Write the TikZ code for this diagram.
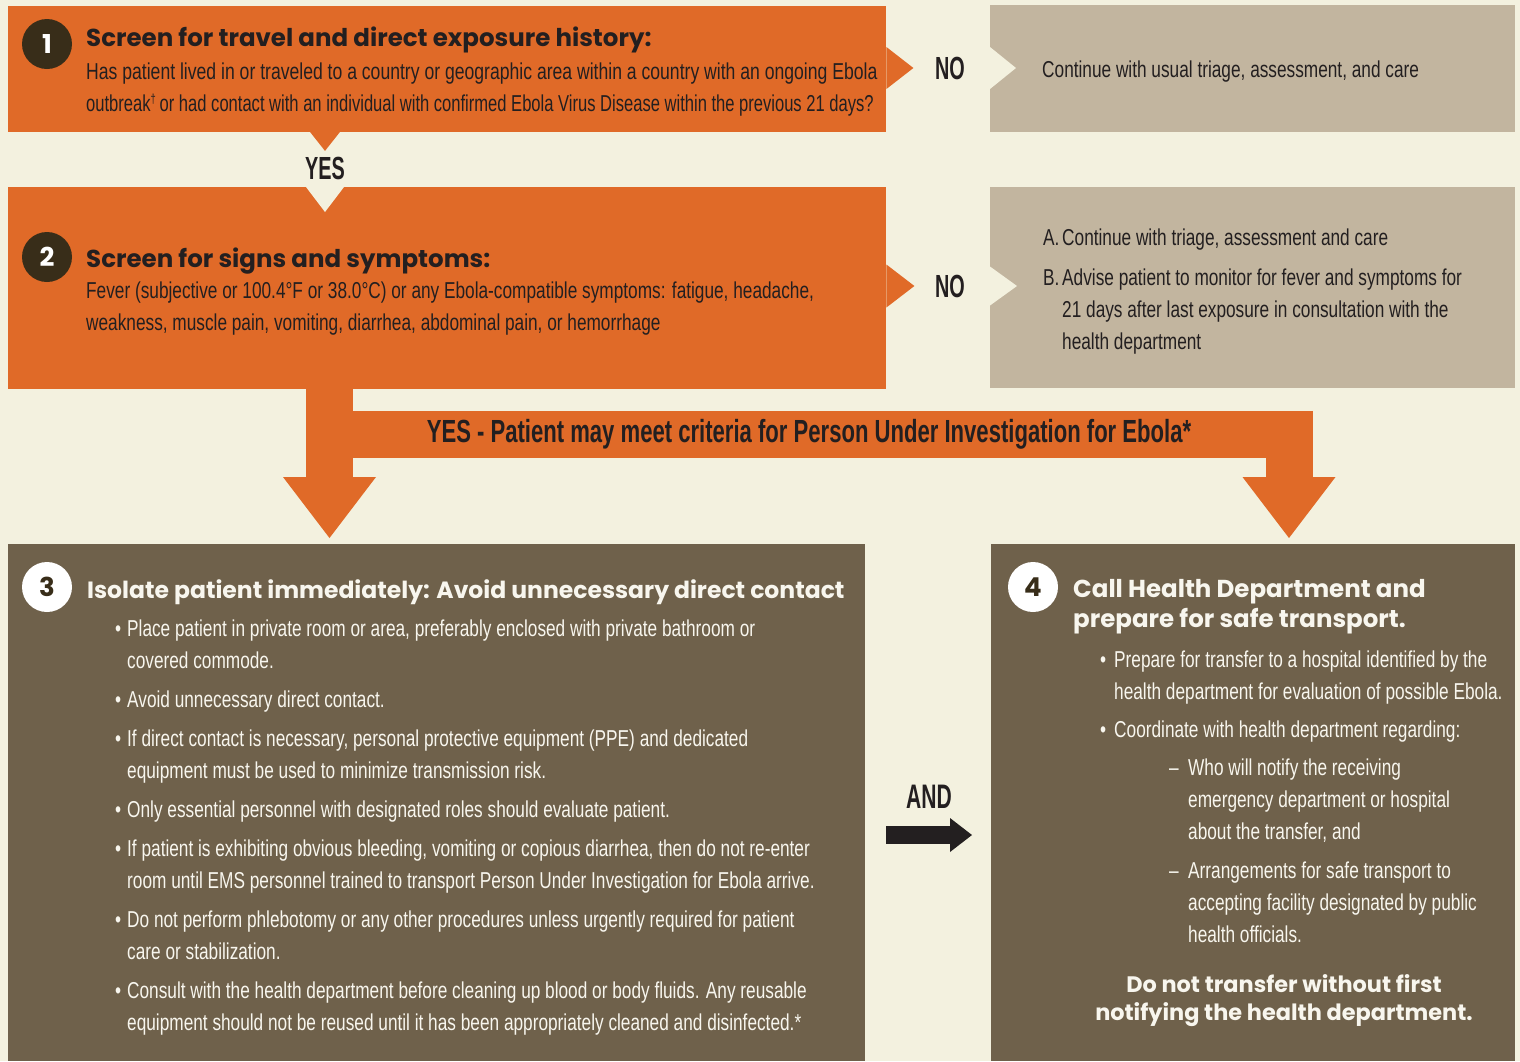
\documentclass[tikz,border=0pt]{standalone}
\usepackage{fontspec}
\setmainfont{Liberation Sans}
\newfontfamily\bodyfont[FakeStretch=0.75]{Liberation Sans}
\newfontfamily\widebody[FakeStretch=0.765]{Liberation Sans}
\newfontfamily\tightbody[FakeStretch=0.72]{Liberation Sans}
\newfontfamily\headfont{Poppins}
\newfontfamily\tagfont[FakeStretch=0.62]{Liberation Sans}
\newfontfamily\barfont[FakeStretch=0.69]{Liberation Sans}
\usetikzlibrary{arrows.meta, positioning}

\definecolor{cream}{RGB}{243,241,223}
\definecolor{ebolaorange}{RGB}{224,106,40}
\definecolor{altfill}{RGB}{194,181,159}
\definecolor{actfill}{RGB}{111,97,75}
\definecolor{circdark}{RGB}{56,45,25}
\definecolor{inkdark}{RGB}{35,31,32}
\definecolor{inklight}{RGB}{248,246,238}

\newcommand{\bitem}[1][12pt]{\makebox[#1][l]{•}}
\newcommand{\bcont}[1][12pt]{\hspace*{#1}}

\tikzstyle{qbox} = [rectangle, anchor=north west, inner sep=0pt, fill=ebolaorange]
\tikzstyle{altbox} = [rectangle, anchor=north west, inner sep=0pt, fill=altfill]
\tikzstyle{actbox} = [rectangle, anchor=north west, inner sep=0pt, fill=actfill]
\tikzstyle{numdark} = [circle, fill=circdark, text=white, minimum size=50pt, inner sep=0pt, font=\headfont\bfseries\fontsize{26pt}{26pt}\selectfont]
\tikzstyle{numlight} = [circle, fill=white, text=circdark, minimum size=50pt, inner sep=0pt, font=\headfont\bfseries\fontsize{26pt}{26pt}\selectfont]
\tikzstyle{tag} = [inner sep=0pt, text=inkdark, font=\tagfont\bfseries\fontsize{32pt}{32pt}\selectfont]
\tikzstyle{head} = [anchor=base west, inner sep=0pt, align=left, font=\headfont\bfseries\fontsize{24.5pt}{30pt}\selectfont]
\tikzstyle{body} = [anchor=base west, inner sep=0pt, align=left, font=\bodyfont\fontsize{23pt}{32pt}\selectfont]
\tikzstyle{bigarrow} = [line width=47pt, draw=ebolaorange, shorten >=6pt, -{Triangle[width=93pt, length=61pt, line width=0pt]}]
\tikzstyle{andarrow} = [line width=18pt, draw=inkdark, -{Triangle[width=34pt, length=22pt, line width=0pt]}]

\begin{document}
\begin{tikzpicture}[x=1pt, y=-1pt]
	\fill [cream] (0,0) rectangle (1520,1061);
	\useasboundingbox (0,0) rectangle (1520,1061);

	% boxes
	\node (screen1) [qbox, minimum width=878pt, minimum height=125.5pt] at (8,6) {};
	\node (alt1) [altbox, minimum width=525pt, minimum height=126.5pt] at (990,5) {};
	\node (screen2) [qbox, minimum width=878pt, minimum height=202pt] at (8,187) {};
	\node (alt2) [altbox, minimum width=525pt, minimum height=201pt] at (990,187) {};
	\node (isolate) [actbox, minimum width=857pt, minimum height=517pt] at (8,544) {};
	\node (callhd) [actbox, minimum width=524pt, minimum height=517pt] at (991,544) {};

	% labels between boxes
	\node (no1) [tag] at (950,68) {NO};
	\node (yes1) [tag] at (325,168) {YES};
	\node (no2) [tag] at (950,286) {NO};
	\node (andlbl) [tag, font=\tagfont\bfseries\fontsize{34pt}{34pt}\selectfont] at (929,797) {AND};

	% notches
	\fill [ebolaorange] (screen1.south -| yes1) ++(-15,0) -- ++(30,0) -- ++(-15,19) -- cycle;
	\fill [cream] (screen2.north -| yes1) ++(-19,0) -- ++(38,0) -- ++(-19,25) -- cycle;
	\fill [ebolaorange] (screen1.east |- no1) ++(0,-21) -- ++(27,21) -- ++(-27,21) -- cycle;
	\fill [cream] (alt1.west |- no1) ++(0,-21) -- ++(26,21) -- ++(-26,21) -- cycle;
	\fill [ebolaorange] (screen2.east |- no2) ++(0,-21.5) -- ++(28,21.5) -- ++(-28,21.5) -- cycle;
	\fill [cream] (alt2.west |- no2) ++(0,-19.5) -- ++(27,19.5) -- ++(-27,19.5) -- cycle;

	% yes branch
	\coordinate (stemL) at (329.5,0);
	\coordinate (stemR) at (1289,0);
	\draw [bigarrow] (screen2.south -| stemL) -- (isolate.north -| stemL);
	\node (yesbar) [tag, font=\barfont\bfseries\fontsize{32pt}{32pt}\selectfont, fill=ebolaorange, minimum width=1006pt, minimum height=47pt] at (809,434.5) {YES - Patient may meet criteria for Person Under Investigation for Ebola*};
	\draw [bigarrow] (yesbar.north -| stemR) -- (callhd.north -| stemR);
	\draw [andarrow, shorten <=21pt, shorten >=19pt] (isolate.east |- 0,835) -- (callhd.west |- 0,835);

	% step 1
	\node (num1) [numdark] at (47,44) {1};
	\node (head1) [head, text=inkdark] at (86,46) {Screen for travel and direct exposure history:};
	\node (text1) [body, text=inkdark] at (86,111) {{\widebody Has patient lived in or traveled to a country or geographic area within a country with an ongoing Ebola}\\
		{\tightbody outbreak\raisebox{8pt}{\fontsize{13pt}{13pt}\selectfont †}\,or had contact with an individual with confirmed Ebola Virus Disease within the previous 21 days?}};
	\node (alttext1) [body, text=inkdark] at (1042,77) {Continue with usual triage, assessment, and care};

	% step 2
	\node (num2) [numdark] at (47,257) {2};
	\node (head2) [head, text=inkdark] at (86,267) {Screen for signs and symptoms:};
	\node (text2) [body, text=inkdark] at (86,330) {Fever (subjective or 100.4°F or 38.0°C) or any Ebola-compatible symptoms: fatigue, headache,\\
		weakness, muscle pain, vomiting, diarrhea, abdominal pain, or hemorrhage};
	\node (alttext2) [body, text=inkdark] at (1043,349) {\makebox[19pt][l]{A.}Continue with triage, assessment and care\\[8pt]
		\makebox[19pt][l]{B.}Advise patient to monitor for fever and symptoms for\\
		\hspace*{19pt}21 days after last exposure in consultation with the\\
		\hspace*{19pt}health department};

	% step 3
	\node (num3) [numlight] at (47,587) {3};
	\node (head3) [head, text=inklight, font=\headfont\bfseries\fontsize{23.5pt}{30pt}\selectfont] at (87,598) {Isolate patient immediately: Avoid unnecessary direct contact};
	\node (text3) [body, text=inklight] at (115,1030) {\bitem Place patient in private room or area, preferably enclosed with private bathroom or\\
		\bcont covered commode.\\[7pt]
		\bitem Avoid unnecessary direct contact.\\[7pt]
		\bitem If direct contact is necessary, personal protective equipment (PPE) and dedicated\\
		\bcont equipment must be used to minimize transmission risk.\\[7pt]
		\bitem Only essential personnel with designated roles should evaluate patient.\\[7pt]
		\bitem If patient is exhibiting obvious bleeding, vomiting or copious diarrhea, then do not re-enter\\
		\bcont room until EMS personnel trained to transport Person Under Investigation for Ebola arrive.\\[7pt]
		\bitem Do not perform phlebotomy or any other procedures unless urgently required for patient\\
		\bcont care or stabilization.\\[7pt]
		\bitem Consult with the health department before cleaning up blood or body fluids. Any reusable\\
		\bcont equipment should not be reused until it has been appropriately cleaned and disinfected.*};

	% step 4
	\node (num4) [numlight] at (1033,587) {4};
	\node (head4) [head, text=inklight] at (1073,627) {Call Health Department and\\prepare for safe transport.};
	\node (text4) [body, text=inklight] at (1100,942) {\bitem[14pt]Prepare for transfer to a hospital identified by the\\
		\bcont[14pt]health department for evaluation of possible Ebola.\\[6pt]
		\bitem[14pt]Coordinate with health department regarding:\\[6pt]
		\hspace*{69pt}\makebox[19pt][l]{–}Who will notify the receiving\\
		\hspace*{88pt}emergency department or hospital\\
		\hspace*{88pt}about the transfer, and\\[7pt]
		\hspace*{69pt}\makebox[19pt][l]{–}Arrangements for safe transport to\\
		\hspace*{88pt}accepting facility designated by public\\
		\hspace*{88pt}health officials.};
	\node (warn4) [head, anchor=base, align=center, text=inklight, font=\headfont\bfseries\fontsize{22.4pt}{28pt}\selectfont] at (1284,1020) {Do not transfer without first\\notifying the health department.};
\end{tikzpicture}
\end{document}
